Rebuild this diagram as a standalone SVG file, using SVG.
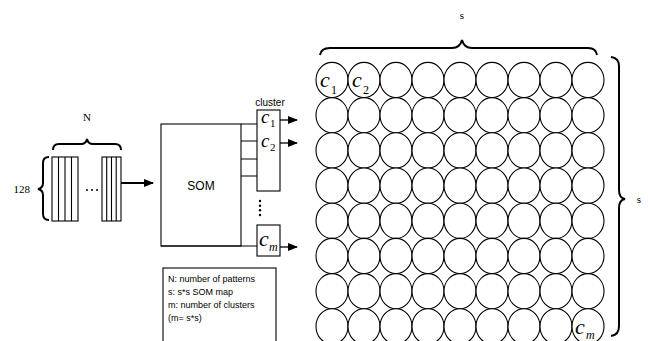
<svg xmlns="http://www.w3.org/2000/svg" width="648" height="341" viewBox="0 0 648 341">
<defs>
<style>
.ln{fill:none;stroke:#000;stroke-width:1.1}
.br{fill:none;stroke:#000;stroke-width:2}
.cell{fill:#fff;stroke:#000;stroke-width:1.1}
.serif{font-family:"Liberation Serif",serif;font-size:11px}
.sans{font-family:"Liberation Sans",Arial,sans-serif}
.ci{font-family:"Liberation Serif",serif;font-style:italic;font-size:22px}
.cs{font-family:"Liberation Serif",serif;font-style:italic;font-size:19px}
.sub{font-family:"Liberation Serif",serif;font-size:12px}
.sb{font-family:"Liberation Serif",serif;font-size:11px}
</style>
<marker id="ah" markerWidth="10" markerHeight="8" refX="9" refY="4" orient="auto" markerUnits="userSpaceOnUse"><path d="M0,0 L10,4 L0,8 z" fill="#000"/></marker>
</defs>
<rect width="648" height="341" fill="#fff"/>

<g id="input">
<text class="serif" x="87" y="121" text-anchor="middle">N</text>
<path class="br" d="M53,150 Q53,144 59,144 L81,144 Q86,144 87,139 Q88,144 93,144 L115,144 Q121,144 121,150"/>
<text class="serif" x="30" y="193" text-anchor="end">128</text>
<path class="br" d="M49,157 Q43,157 43,163 L43,183 Q43,188 38,189 Q43,190 43,195 L43,214 Q43,220 49,220"/>
<rect class="ln" x="52" y="157" width="26" height="64"/>
<path class="ln" d="M58.5,157V221M65,157V221M71.5,157V221"/>
<rect class="ln" x="102" y="157" width="19" height="64"/>
<path class="ln" d="M106.7,157V221M111.5,157V221M116.2,157V221"/>
<g fill="#000"><circle cx="87" cy="190" r="1"/><circle cx="92" cy="190" r="1"/><circle cx="97" cy="190" r="1"/></g>
</g>

<g id="som">
<rect class="ln" x="161" y="124" width="80" height="122"/>
<text class="sans" x="201" y="190" text-anchor="middle" font-size="12">SOM</text>
</g>

<g id="cluster">
<text class="sans" x="270" y="106" text-anchor="middle" font-size="10">cluster</text>
<rect class="ln" x="257" y="110" width="23" height="81"/>
<text class="cs" x="261" y="123">c</text><text class="sb" x="270" y="127">1</text>
<text class="cs" x="261" y="147">c</text><text class="sb" x="270" y="151">2</text>
<g fill="#000"><circle cx="260" cy="201" r="1.2"/><circle cx="260" cy="205.7" r="1.2"/><circle cx="260" cy="210.3" r="1.2"/><circle cx="260" cy="215" r="1.2"/></g>
</g>

<g id="cluster-m">
<rect class="ln" x="257" y="225" width="23" height="31"/>
<text class="ci" x="259" y="246">c</text><text class="sub" x="269" y="251" font-style="italic">m</text>
</g>

<g id="connectors">
<path class="ln" d="M241,124H257M241,141H257M241,159H257M241,176H257M161,246H257"/>
<line x1="121" y1="183" x2="153" y2="183" stroke="#000" stroke-width="2" marker-end="url(#ah)"/>
<line x1="280" y1="120" x2="297" y2="120" stroke="#000" stroke-width="1.3" marker-end="url(#ah)"/>
<line x1="280" y1="143" x2="297" y2="143" stroke="#000" stroke-width="1.3" marker-end="url(#ah)"/>
<line x1="280" y1="247" x2="297" y2="247" stroke="#000" stroke-width="1.3" marker-end="url(#ah)"/>
</g>

<g id="map">
<text class="serif" x="462" y="19" text-anchor="middle">s</text>
<path class="br" d="M320,55 Q321,48 330,48 L452,48 Q460,48 462,40 Q464,48 472,48 L588,48 Q596,48 597,55"/>
<text class="serif" x="639" y="203" text-anchor="middle">s</text>
<path class="br" d="M611,57 Q619,58 619,66 L619,190 Q619,198 625,199 Q619,200 619,208 L619,326 Q619,335 611,336"/>
<g id="grid">
<g class="row">
<ellipse class="cell" cx="332" cy="80" rx="16" ry="17.6"/><ellipse class="cell" cx="364" cy="80" rx="16" ry="17.6"/><ellipse class="cell" cx="396" cy="80" rx="16" ry="17.6"/><ellipse class="cell" cx="428" cy="80" rx="16" ry="17.6"/><ellipse class="cell" cx="460" cy="80" rx="16" ry="17.6"/><ellipse class="cell" cx="492" cy="80" rx="16" ry="17.6"/><ellipse class="cell" cx="524" cy="80" rx="16" ry="17.6"/><ellipse class="cell" cx="556" cy="80" rx="16" ry="17.6"/><ellipse class="cell" cx="588" cy="80" rx="16" ry="17.6"/>
</g>
<g class="row">
<ellipse class="cell" cx="332" cy="115.2" rx="16" ry="17.6"/><ellipse class="cell" cx="364" cy="115.2" rx="16" ry="17.6"/><ellipse class="cell" cx="396" cy="115.2" rx="16" ry="17.6"/><ellipse class="cell" cx="428" cy="115.2" rx="16" ry="17.6"/><ellipse class="cell" cx="460" cy="115.2" rx="16" ry="17.6"/><ellipse class="cell" cx="492" cy="115.2" rx="16" ry="17.6"/><ellipse class="cell" cx="524" cy="115.2" rx="16" ry="17.6"/><ellipse class="cell" cx="556" cy="115.2" rx="16" ry="17.6"/><ellipse class="cell" cx="588" cy="115.2" rx="16" ry="17.6"/>
</g>
<g class="row">
<ellipse class="cell" cx="332" cy="150.4" rx="16" ry="17.6"/><ellipse class="cell" cx="364" cy="150.4" rx="16" ry="17.6"/><ellipse class="cell" cx="396" cy="150.4" rx="16" ry="17.6"/><ellipse class="cell" cx="428" cy="150.4" rx="16" ry="17.6"/><ellipse class="cell" cx="460" cy="150.4" rx="16" ry="17.6"/><ellipse class="cell" cx="492" cy="150.4" rx="16" ry="17.6"/><ellipse class="cell" cx="524" cy="150.4" rx="16" ry="17.6"/><ellipse class="cell" cx="556" cy="150.4" rx="16" ry="17.6"/><ellipse class="cell" cx="588" cy="150.4" rx="16" ry="17.6"/>
</g>
<g class="row">
<ellipse class="cell" cx="332" cy="185.6" rx="16" ry="17.6"/><ellipse class="cell" cx="364" cy="185.6" rx="16" ry="17.6"/><ellipse class="cell" cx="396" cy="185.6" rx="16" ry="17.6"/><ellipse class="cell" cx="428" cy="185.6" rx="16" ry="17.6"/><ellipse class="cell" cx="460" cy="185.6" rx="16" ry="17.6"/><ellipse class="cell" cx="492" cy="185.6" rx="16" ry="17.6"/><ellipse class="cell" cx="524" cy="185.6" rx="16" ry="17.6"/><ellipse class="cell" cx="556" cy="185.6" rx="16" ry="17.6"/><ellipse class="cell" cx="588" cy="185.6" rx="16" ry="17.6"/>
</g>
<g class="row">
<ellipse class="cell" cx="332" cy="220.8" rx="16" ry="17.6"/><ellipse class="cell" cx="364" cy="220.8" rx="16" ry="17.6"/><ellipse class="cell" cx="396" cy="220.8" rx="16" ry="17.6"/><ellipse class="cell" cx="428" cy="220.8" rx="16" ry="17.6"/><ellipse class="cell" cx="460" cy="220.8" rx="16" ry="17.6"/><ellipse class="cell" cx="492" cy="220.8" rx="16" ry="17.6"/><ellipse class="cell" cx="524" cy="220.8" rx="16" ry="17.6"/><ellipse class="cell" cx="556" cy="220.8" rx="16" ry="17.6"/><ellipse class="cell" cx="588" cy="220.8" rx="16" ry="17.6"/>
</g>
<g class="row">
<ellipse class="cell" cx="332" cy="256" rx="16" ry="17.6"/><ellipse class="cell" cx="364" cy="256" rx="16" ry="17.6"/><ellipse class="cell" cx="396" cy="256" rx="16" ry="17.6"/><ellipse class="cell" cx="428" cy="256" rx="16" ry="17.6"/><ellipse class="cell" cx="460" cy="256" rx="16" ry="17.6"/><ellipse class="cell" cx="492" cy="256" rx="16" ry="17.6"/><ellipse class="cell" cx="524" cy="256" rx="16" ry="17.6"/><ellipse class="cell" cx="556" cy="256" rx="16" ry="17.6"/><ellipse class="cell" cx="588" cy="256" rx="16" ry="17.6"/>
</g>
<g class="row">
<ellipse class="cell" cx="332" cy="291.2" rx="16" ry="17.6"/><ellipse class="cell" cx="364" cy="291.2" rx="16" ry="17.6"/><ellipse class="cell" cx="396" cy="291.2" rx="16" ry="17.6"/><ellipse class="cell" cx="428" cy="291.2" rx="16" ry="17.6"/><ellipse class="cell" cx="460" cy="291.2" rx="16" ry="17.6"/><ellipse class="cell" cx="492" cy="291.2" rx="16" ry="17.6"/><ellipse class="cell" cx="524" cy="291.2" rx="16" ry="17.6"/><ellipse class="cell" cx="556" cy="291.2" rx="16" ry="17.6"/><ellipse class="cell" cx="588" cy="291.2" rx="16" ry="17.6"/>
</g>
<g class="row">
<ellipse class="cell" cx="332" cy="326.4" rx="16" ry="17.6"/><ellipse class="cell" cx="364" cy="326.4" rx="16" ry="17.6"/><ellipse class="cell" cx="396" cy="326.4" rx="16" ry="17.6"/><ellipse class="cell" cx="428" cy="326.4" rx="16" ry="17.6"/><ellipse class="cell" cx="460" cy="326.4" rx="16" ry="17.6"/><ellipse class="cell" cx="492" cy="326.4" rx="16" ry="17.6"/><ellipse class="cell" cx="524" cy="326.4" rx="16" ry="17.6"/><ellipse class="cell" cx="556" cy="326.4" rx="16" ry="17.6"/><ellipse class="cell" cx="588" cy="326.4" rx="16" ry="17.6"/>
</g>
</g>
<text class="ci" x="320" y="87">c</text><text class="sub" x="331" y="94">1</text>
<text class="ci" x="352" y="87">c</text><text class="sub" x="363" y="94">2</text>
<text class="ci" x="575" y="334">c</text><text class="sub" x="586" y="339" font-style="italic">m</text>
</g>

<g id="legend">
<rect class="ln" x="163" y="268" width="113" height="80"/>
<g class="sans" font-size="9">
<text x="168" y="282">N: number of patterns</text>
<text x="168" y="295">s: s*s SOM map</text>
<text x="168" y="308">m: number of clusters</text>
<text x="168" y="321">(m= s*s)</text>
</g>
</g>
</svg>
